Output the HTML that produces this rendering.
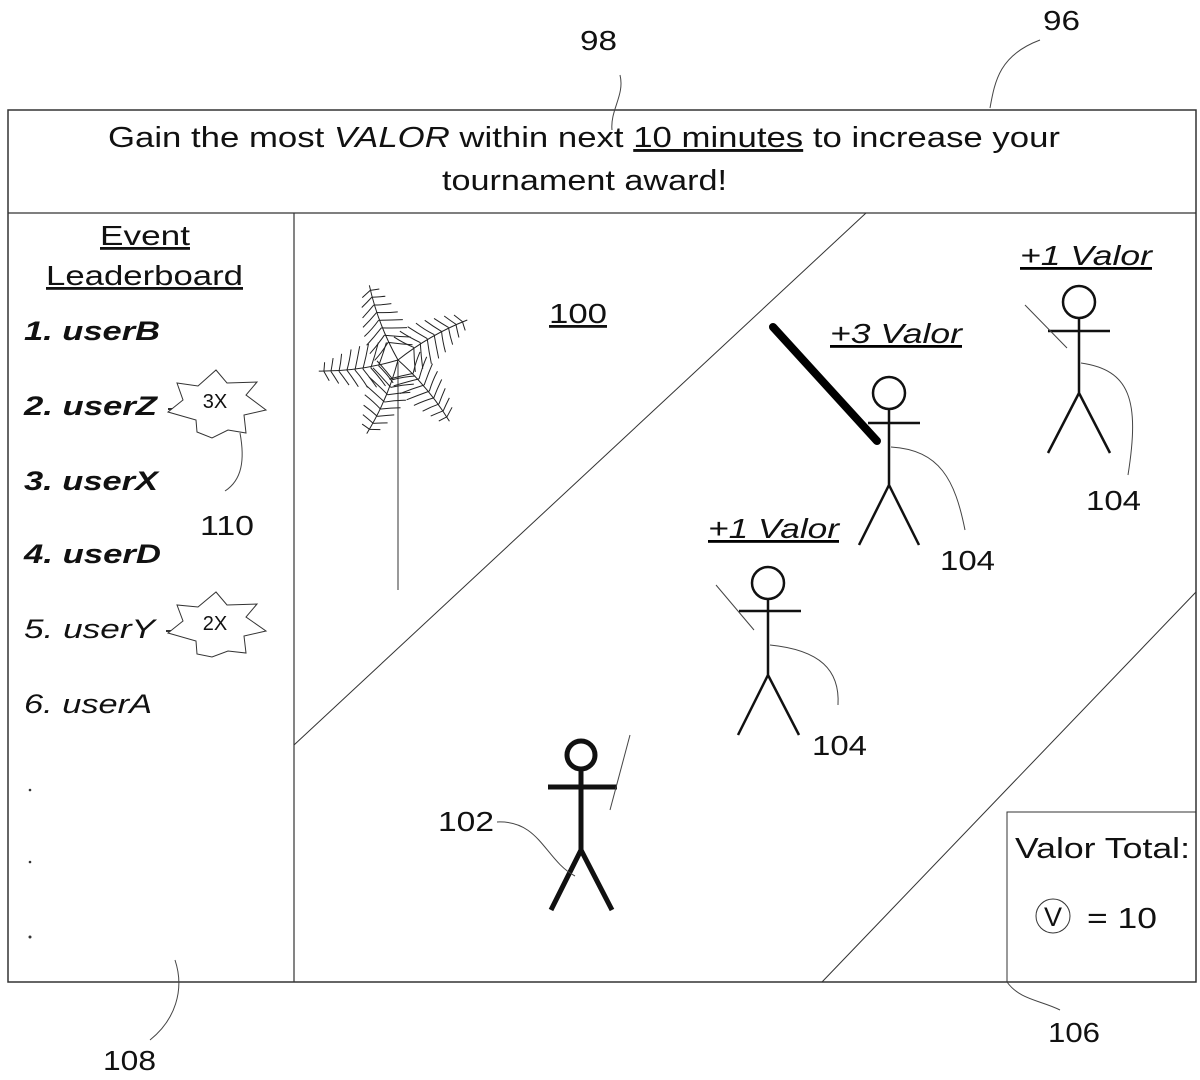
<!DOCTYPE html>
<html><head><meta charset="utf-8"><style>
html,body{margin:0;padding:0;background:#fff;}
svg{display:block;}
text{font-family:"Liberation Sans",sans-serif;fill:#111;}
</style></head><body>
<svg width="1200" height="1080" viewBox="0 0 1200 1080" xmlns="http://www.w3.org/2000/svg">
<defs>
<g id="frond" fill="none" stroke="#222" stroke-width="1">
<path d="M0,0 Q40,-6 80,0"/>
<path d="M20,-3 Q13,-12 8,-22 M28,-4 Q21,-14 16,-24 M36,-4 Q30,-14 25,-24 M44,-4 Q38,-13 34,-23 M52,-3 Q47,-12 43,-21 M60,-3 Q56,-10 52,-18 M68,-2 Q65,-8 62,-15 M75,-1 Q73,-6 71,-11"/>
<path d="M20,-3 Q14,8 9,19 M28,-4 Q22,8 17,20 M36,-4 Q31,8 27,20 M44,-4 Q40,7 36,19 M52,-3 Q48,6 45,17 M60,-3 Q57,5 55,14 M68,-2 Q66,4 64,11 M75,-1 Q74,3 73,8"/>
</g>
</defs>
<rect x="8" y="110" width="1188" height="872" fill="none" stroke="#333" stroke-width="1.5"/>
<line x1="8" y1="213" x2="1196" y2="213" stroke="#333" stroke-width="1.2"/>
<line x1="294" y1="213" x2="294" y2="982" stroke="#333" stroke-width="1.2"/>
<line x1="294" y1="745" x2="866" y2="213" stroke="#333" stroke-width="1"/>
<line x1="822" y1="982" x2="1196" y2="592" stroke="#333" stroke-width="1"/>
<rect x="1007" y="812" width="189" height="170" fill="none" stroke="#333" stroke-width="1"/>

<text x="108" y="147" font-size="29" textLength="952" lengthAdjust="spacingAndGlyphs">Gain the most <tspan font-style="italic">VALOR</tspan> within next <tspan text-decoration="underline">10 minutes</tspan> to increase your</text>
<text x="442" y="190" font-size="29" textLength="285" lengthAdjust="spacingAndGlyphs">tournament award!</text>

<text x="100" y="245" font-size="28" textLength="90" lengthAdjust="spacingAndGlyphs" text-decoration="underline">Event</text>
<text x="46" y="285" font-size="28" textLength="197" lengthAdjust="spacingAndGlyphs" text-decoration="underline">Leaderboard</text>
<g font-size="27" font-style="italic" font-weight="bold">
<text x="24" y="340" textLength="136" lengthAdjust="spacingAndGlyphs">1. userB</text>
<text x="24" y="415" textLength="133" lengthAdjust="spacingAndGlyphs">2. userZ</text>
<text x="24" y="490" textLength="134" lengthAdjust="spacingAndGlyphs">3. userX</text>
<text x="24" y="563" textLength="137" lengthAdjust="spacingAndGlyphs">4. userD</text>
</g>
<g font-size="27" font-style="italic">
<text x="24" y="638" textLength="131" lengthAdjust="spacingAndGlyphs">5. userY</text>
<text x="24" y="713" textLength="128" lengthAdjust="spacingAndGlyphs">6. userA</text>
</g>
<circle cx="30" cy="790" r="1.3" fill="#333"/>
<circle cx="30" cy="862" r="1.3" fill="#333"/>
<circle cx="30" cy="937" r="1.5" fill="#333"/>

<line x1="168" y1="409" x2="174" y2="409" stroke="#333" stroke-width="2"/>
<polygon points="216,370 227,383 257,382 246,395 266,410 244,415 246,433 228,430 212,438 197,432 196,420 168,412 183,400 177,383 198,386" fill="#fff" stroke="#333" stroke-width="1"/>
<text x="215" y="408" font-size="20" text-anchor="middle">3X</text>
<line x1="166" y1="631" x2="172" y2="631" stroke="#333" stroke-width="2"/>
<polygon points="216,592 227,605 257,604 246,617 266,631 244,636 246,653 228,651 212,657 197,654 196,641 168,633 183,621 177,605 198,607" fill="#fff" stroke="#333" stroke-width="1"/>
<text x="215" y="630" font-size="20" text-anchor="middle">2X</text>
<path d="M240,433 C245,460 242,480 225,491" fill="none" stroke="#444" stroke-width="1"/>
<text x="200" y="535" font-size="28" textLength="54" lengthAdjust="spacingAndGlyphs">110</text>

<!-- palm -->
<line x1="398" y1="362" x2="398" y2="590" stroke="#333" stroke-width="1"/>
<use href="#frond" transform="translate(398,360) rotate(-111)"/>
<use href="#frond" transform="translate(398,360) rotate(-30)"/>
<use href="#frond" transform="translate(398,360) rotate(172)"/>
<use href="#frond" transform="translate(398,360) rotate(50)"/>
<use href="#frond" transform="translate(398,360) rotate(113)"/>

<text x="549" y="323" font-size="28" textLength="58" lengthAdjust="spacingAndGlyphs" text-decoration="underline">100</text>

<g font-size="28" font-style="italic" text-decoration="underline">
<text x="830" y="343" textLength="132" lengthAdjust="spacingAndGlyphs">+3 Valor</text>
<text x="1020" y="265" textLength="132" lengthAdjust="spacingAndGlyphs">+1 Valor</text>
<text x="708" y="538" textLength="131" lengthAdjust="spacingAndGlyphs">+1 Valor</text>
</g>

<g fill="none" stroke="#111" stroke-width="2.5">
<circle cx="889" cy="393" r="16"/>
<path d="M889,409 V485 M868,423 H920 M859,545 L889,485 L919,545"/>
<circle cx="1079" cy="302" r="16"/>
<path d="M1079,318 V393 M1048,331 H1110 M1048,453 L1079,393 L1110,453"/>
<circle cx="768" cy="583" r="16"/>
<path d="M768,599 V675 M739,611 H801 M738,735 L768,675 L799,735"/>
</g>
<line x1="773" y1="327" x2="877" y2="441" stroke="#000" stroke-width="8" stroke-linecap="round"/>
<g fill="none" stroke="#111" stroke-width="5">
<circle cx="581" cy="755" r="14"/>
<path d="M581,769 V850 M548,787 H617 M551,910 L581,850 L612,910"/>
</g>
<g fill="none" stroke="#444" stroke-width="1">
<line x1="1025" y1="305" x2="1067" y2="348"/>
<line x1="716" y1="585" x2="754" y2="630"/>
<line x1="630" y1="735" x2="610" y2="810"/>
<path d="M891,447 C940,450 955,480 965,530"/>
<path d="M1081,363 C1130,370 1140,400 1128,475"/>
<path d="M770,645 C820,650 840,670 838,705"/>
<path d="M497,822 C540,820 545,860 575,876"/>
<path d="M620,75 C625,95 610,110 612,130"/>
<path d="M1040,40 C1000,55 995,80 990,108"/>
<path d="M175,960 C185,990 175,1020 150,1040"/>
<path d="M1007,982 C1020,1000 1040,1000 1060,1010"/>
</g>
<g font-size="28">
<text x="940" y="570" textLength="55" lengthAdjust="spacingAndGlyphs">104</text>
<text x="1086" y="510" textLength="55" lengthAdjust="spacingAndGlyphs">104</text>
<text x="812" y="755" textLength="55" lengthAdjust="spacingAndGlyphs">104</text>
<text x="438" y="831" textLength="56" lengthAdjust="spacingAndGlyphs">102</text>
<text x="580" y="50" textLength="37" lengthAdjust="spacingAndGlyphs">98</text>
<text x="1043" y="30" textLength="37" lengthAdjust="spacingAndGlyphs">96</text>
<text x="103" y="1070" textLength="53" lengthAdjust="spacingAndGlyphs">108</text>
<text x="1048" y="1042" textLength="52" lengthAdjust="spacingAndGlyphs">106</text>
</g>
<text x="1015" y="858" font-size="29" textLength="175" lengthAdjust="spacingAndGlyphs">Valor Total:</text>
<circle cx="1053" cy="916" r="17" fill="none" stroke="#333" stroke-width="1"/>
<text x="1053" y="926" font-size="27" text-anchor="middle">V</text>
<text x="1087" y="928" font-size="29" textLength="70" lengthAdjust="spacingAndGlyphs">= 10</text>
</svg>
</body></html>
